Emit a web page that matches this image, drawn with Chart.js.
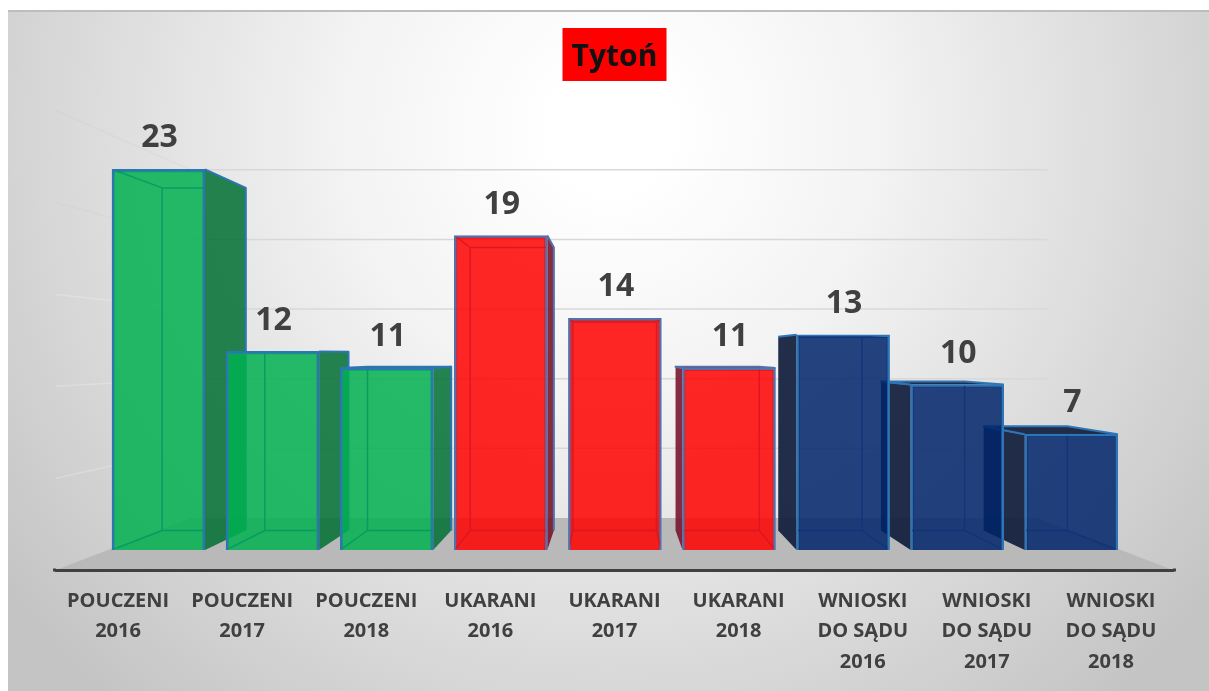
<!DOCTYPE html>
<html lang="pl">
<head>
<meta charset="utf-8">
<style>
html,body{margin:0;padding:0;background:#fff;overflow:hidden}
#wrap{position:absolute;left:0;top:0;width:1209px;height:691px}
</style>
<script src="https://cdn.jsdelivr.net/npm/chart.js@4"></script>
</head>
<body>
<div id="wrap"><canvas id="c" width="1209" height="691"></canvas></div>
<script>
const categories = [
  ["POUCZENI","2016"],["POUCZENI","2017"],["POUCZENI","2018"],
  ["UKARANI","2016"],["UKARANI","2017"],["UKARANI","2018"],
  ["WNIOSKI","DO SĄDU","2016"],["WNIOSKI","DO SĄDU","2017"],["WNIOSKI","DO SĄDU","2018"]
];
const values = [23,12,11,19,14,11,13,10,7];
const barPositions = [0,1,2,3,4,5,6,7,8];
const wallTicks = [1,2,3,4,5];
const titleText = "Tytoń";

const FONT = '"Open Sans", sans-serif';
const palette = {
  green:{front:'rgba(0,176,80,0.85)', side:'rgba(0,110,50,0.85)', inner:'rgba(0,150,100,0.8)', border:'#2e75b6'},
  red:{front:'rgba(255,0,0,0.85)', side:'rgba(120,15,40,0.88)', inner:'rgba(215,20,30,0.8)', border:'#5471ab'},
  navy:{front:'rgba(0,36,106,0.85)', side:'rgba(18,30,60,0.93)', inner:'rgba(20,50,120,0.9)', border:'#2e75b6'}
};
const groups = ['green','green','green','red','red','red','navy','navy','navy'];

const VP = {x:613, y:355};
const DEPTH = 0.1, WALL = 0.242;
const back = (p,k) => ({x:p.x+(VP.x-p.x)*k, y:p.y+(VP.y-p.y)*k});
const poly = (ctx,pts) => {ctx.beginPath();pts.forEach((p,i)=>i?ctx.lineTo(p.x,p.y):ctx.moveTo(p.x,p.y));ctx.closePath();};

function corners(el){
  const half = el.width/2;
  const f = {l:el.x-half, r:el.x+half, t:el.y, b:el.base};
  const tl = back({x:f.l,y:f.t},DEPTH), tr = back({x:f.r,y:f.t},DEPTH),
        bl = back({x:f.l,y:f.b},DEPTH), br = back({x:f.r,y:f.b},DEPTH);
  return {f,tl,tr,bl,br};
}

const scene = {
  id:'scene',
  beforeDraw(chart){
    const {ctx,chartArea:a,scales:{y}} = chart;
    ctx.save();
    const W = chart.width, H = chart.height;
    const g = ctx.createRadialGradient(610,130,60,610,130,760);
    g.addColorStop(0,'#ffffff'); g.addColorStop(0.3,'#f3f3f3');
    g.addColorStop(0.62,'#dedede'); g.addColorStop(1,'#c4c4c4');
    ctx.fillStyle = g; ctx.fillRect(8,10,W-8,H-10);
    ctx.fillStyle = '#bdbdbd'; ctx.fillRect(8,10,W-8,2);
    // title box
    const tb = chart.titleBlock;
    const cx = tb.left + tb.width/2;
    ctx.fillStyle = '#ff0000'; ctx.fillRect(cx-52,28,104,53);
    // floor
    const fl = {x:a.left,y:a.bottom}, fr = {x:a.right,y:a.bottom};
    ctx.fillStyle = '#b9b9b9';
    poly(ctx,[fl,fr,back(fr,WALL),back(fl,WALL)]); ctx.fill();
    // back-wall and side-wall grid
    const unit = y.getPixelForValue(0) - y.getPixelForValue(5.55);
    ctx.strokeStyle = '#d8d8d8'; ctx.lineWidth = 1.5;
    wallTicks.forEach(n=>{
      const p = back({x:a.left, y:a.bottom-unit*n},WALL);
      const q = back({x:a.right,y:a.bottom-unit*n},WALL);
      ctx.beginPath(); ctx.moveTo(p.x,p.y); ctx.lineTo(q.x+10,q.y); ctx.stroke();
    });
    wallTicks.forEach(n=>{
      ctx.strokeStyle = n<4 ? 'rgba(255,255,255,0.22)' : 'rgba(200,200,200,0.2)';
      const s = {x:a.left, y:a.bottom-unit*n}, p = back(s,WALL);
      ctx.beginPath(); ctx.moveTo(s.x,s.y); ctx.lineTo(p.x,p.y); ctx.stroke();
    });
    ctx.restore();
  },
  beforeDatasetsDraw(chart){
    const {ctx} = chart;
    const els = chart.getDatasetMeta(0).data;
    ctx.save();
    els.forEach((el,i)=>{
      const c = corners(el), pal = palette[groups[i]], f = c.f;
      ctx.fillStyle = pal.side; ctx.strokeStyle = pal.border; ctx.lineWidth = 2; ctx.lineJoin='round';
      if (f.r < VP.x) {
        poly(ctx,[{x:f.r,y:f.t},c.tr,c.br,{x:f.r,y:f.b}]); ctx.fill();
        ctx.beginPath(); ctx.moveTo(f.r,f.t); ctx.lineTo(c.tr.x,c.tr.y); ctx.lineTo(c.br.x,c.br.y); ctx.stroke();
      }
      if (f.l > VP.x) {
        poly(ctx,[{x:f.l,y:f.t},c.tl,c.bl,{x:f.l,y:f.b}]); ctx.fill();
        ctx.beginPath(); ctx.moveTo(f.l,f.t); ctx.lineTo(c.tl.x,c.tl.y); ctx.stroke();
      }
      if (f.t > VP.y) {
        poly(ctx,[{x:f.l,y:f.t},{x:f.r,y:f.t},c.tr,c.tl]); ctx.fill();
        ctx.beginPath(); ctx.moveTo(f.r,f.t); ctx.lineTo(c.tr.x,c.tr.y); ctx.lineTo(c.tl.x,c.tl.y); ctx.lineTo(f.l,f.t); ctx.stroke();
      }
    });
    ctx.restore();
  },
  afterDatasetsDraw(chart){
    const {ctx,chartArea:a} = chart;
    const els = chart.getDatasetMeta(0).data;
    ctx.save();
    els.forEach((el,i)=>{
      const c = corners(el), pal = palette[groups[i]], f = c.f;
      ctx.save();
      ctx.beginPath(); ctx.rect(f.l+1.5,f.t+1.5,el.width-3,f.b-f.t-3); ctx.clip();
      ctx.strokeStyle = pal.inner; ctx.lineWidth = 1.5;
      ctx.beginPath();
      ctx.moveTo(c.tl.x,c.tl.y); ctx.lineTo(c.tr.x,c.tr.y); ctx.lineTo(c.br.x,c.br.y); ctx.lineTo(c.bl.x,c.bl.y); ctx.closePath();
      ctx.moveTo(f.l,f.t); ctx.lineTo(c.tl.x,c.tl.y);
      ctx.moveTo(f.r,f.t); ctx.lineTo(c.tr.x,c.tr.y);
      ctx.moveTo(f.l,f.b); ctx.lineTo(c.bl.x,c.bl.y);
      ctx.moveTo(f.r,f.b); ctx.lineTo(c.br.x,c.br.y);
      ctx.stroke();
      ctx.restore();
    });
    // value labels
    ctx.fillStyle = '#404040';
    ctx.font = '700 32px '+FONT;
    ctx.textAlign = 'center'; ctx.textBaseline = 'middle';
    els.forEach((el,i)=>ctx.fillText(String(values[i]), el.x+1, el.y-31));
    // axis end caps
    ctx.fillStyle = '#404040';
    ctx.fillRect(a.left-3,a.bottom-1.5,3,3); ctx.fillRect(a.right,a.bottom-1.5,3,3);
    ctx.restore();
  }
};

const PX_PER_UNIT = 16.55, SPACING = 114.1, FIRST = 158.5, LEFT = 56, RIGHT = 1173;

new Chart(document.getElementById('c'),{
  type:'bar',
  plugins:[scene],
  data:{
    labels:categories,
    datasets:[{
      label:titleText,
      xAxisID:'xb',
      data:barPositions.map((p,i)=>({x:p,y:values[i]})),
      barThickness:93,
      backgroundColor:groups.map(g=>palette[g].front),
      borderColor:groups.map(g=>palette[g].border),
      borderWidth:2.5
    }]
  },
  options:{
    responsive:false,animation:false,
    layout:{padding:{left:LEFT,right:1209-RIGHT,top:0,bottom:0}},
    plugins:{
      legend:{display:false},tooltip:{enabled:false},
      title:{display:true,text:titleText,color:'#111',
        font:{family:FONT,weight:'700',size:30,lineHeight:1.2},
        padding:{top:39,bottom:25}}
    },
    scales:{
      x:{type:'category',offset:true,
        grid:{display:false},
        border:{display:true,color:'#404040',width:3},
        ticks:{autoSkip:false,maxRotation:0,minRotation:0,color:'#404040',padding:8,
          font:{family:FONT,weight:'700',size:20,lineHeight:1.52}},
        afterFit(s){s.height=121;}
      },
      xb:{type:'linear',display:false,
        min:(LEFT-FIRST)/SPACING,max:(RIGHT-FIRST)/SPACING,offset:false,grid:{display:false}},
      y:{type:'linear',display:false,
        min:-20/PX_PER_UNIT,max:(470-20)/PX_PER_UNIT,grid:{display:false}}
    }
  }
});
</script>
</body>
</html>
